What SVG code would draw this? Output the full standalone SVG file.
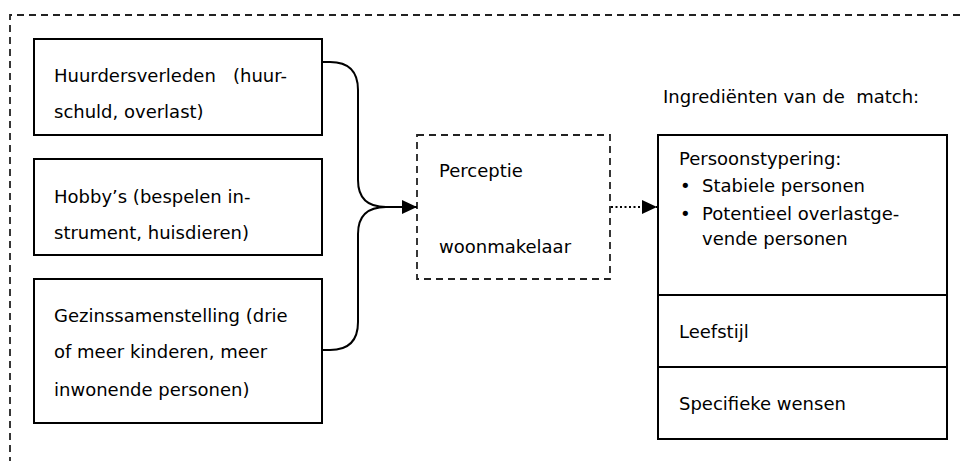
<svg xmlns="http://www.w3.org/2000/svg" width="960" height="461" viewBox="0 0 960 461">
<defs>
<style>
text{font-family:"DejaVu Sans","Noto Sans",sans-serif;font-size:18px;fill:#000;white-space:pre}
.box{fill:#fff;stroke:#000;stroke-width:2}
.dash{fill:none;stroke:#222;stroke-width:1.8;stroke-dasharray:7 5}
.conn{fill:none;stroke:#000;stroke-width:2}
.dot{fill:none;stroke:#000;stroke-width:2;stroke-dasharray:2 2.5}
</style>
<marker id="ah" markerWidth="16" markerHeight="16" refX="15" refY="8" orient="auto" markerUnits="userSpaceOnUse">
<path d="M0,1 L15,8 L0,15 Z" fill="#000"/>
</marker>
</defs>
<rect width="960" height="461" fill="#fff"/>
<g id="frame"><path class="dash" d="M960 15 H10 V461"/></g>
<g id="n1">
<rect class="box" x="34" y="39" width="288" height="96"/>
<text x="54" y="82">Huurdersverleden</text><text x="233" y="82">(huur-</text>
<text x="54" y="118">schuld, overlast)</text>
</g>
<g id="n2">
<rect class="box" x="34" y="159" width="288" height="96"/>
<text x="54" y="203">Hobby’s (bespelen in-</text>
<text x="54" y="239">strument, huisdieren)</text>
</g>
<g id="n3">
<rect class="box" x="34" y="279" width="288" height="144"/>
<text x="54" y="322">Gezinssamenstelling (drie</text>
<text x="54" y="358">of meer kinderen, meer</text>
<text x="54" y="396">inwonende personen)</text>
</g>
<g id="n4">
<rect class="dash" x="417" y="135" width="193" height="144"/>
<text x="439" y="177">Perceptie</text>
<text x="439" y="253">woonmakelaar</text>
</g>
<g id="label"><text x="663" y="103" xml:space="preserve">Ingrediënten van de  match:</text></g>
<g id="n5">
<rect class="box" x="658" y="135" width="289" height="304"/>
<line class="conn" x1="658" y1="295" x2="947" y2="295"/>
<line class="conn" x1="658" y1="367" x2="947" y2="367"/>
<text x="679" y="165">Persoonstypering:</text>
<text x="680" y="192">•</text><text x="702" y="192">Stabiele personen</text>
<text x="680" y="220">•</text><text x="702" y="220">Potentieel overlastge-</text>
<text x="702" y="245">vende personen</text>
<text x="679" y="338">Leefstijl</text>
<text x="679" y="410">Specifieke wensen</text>
</g>
<g id="connectors">
<path class="conn" d="M322 62 H330 Q358 62 358 90 V180 Q358 207 386 207 H417" marker-end="url(#ah)"/>
<path class="conn" d="M322 350 H330 Q358 350 358 322 V234 Q358 207 386 207"/>
<path class="dot" d="M611 207 H657" marker-end="url(#ah)"/>
</g>
</svg>
